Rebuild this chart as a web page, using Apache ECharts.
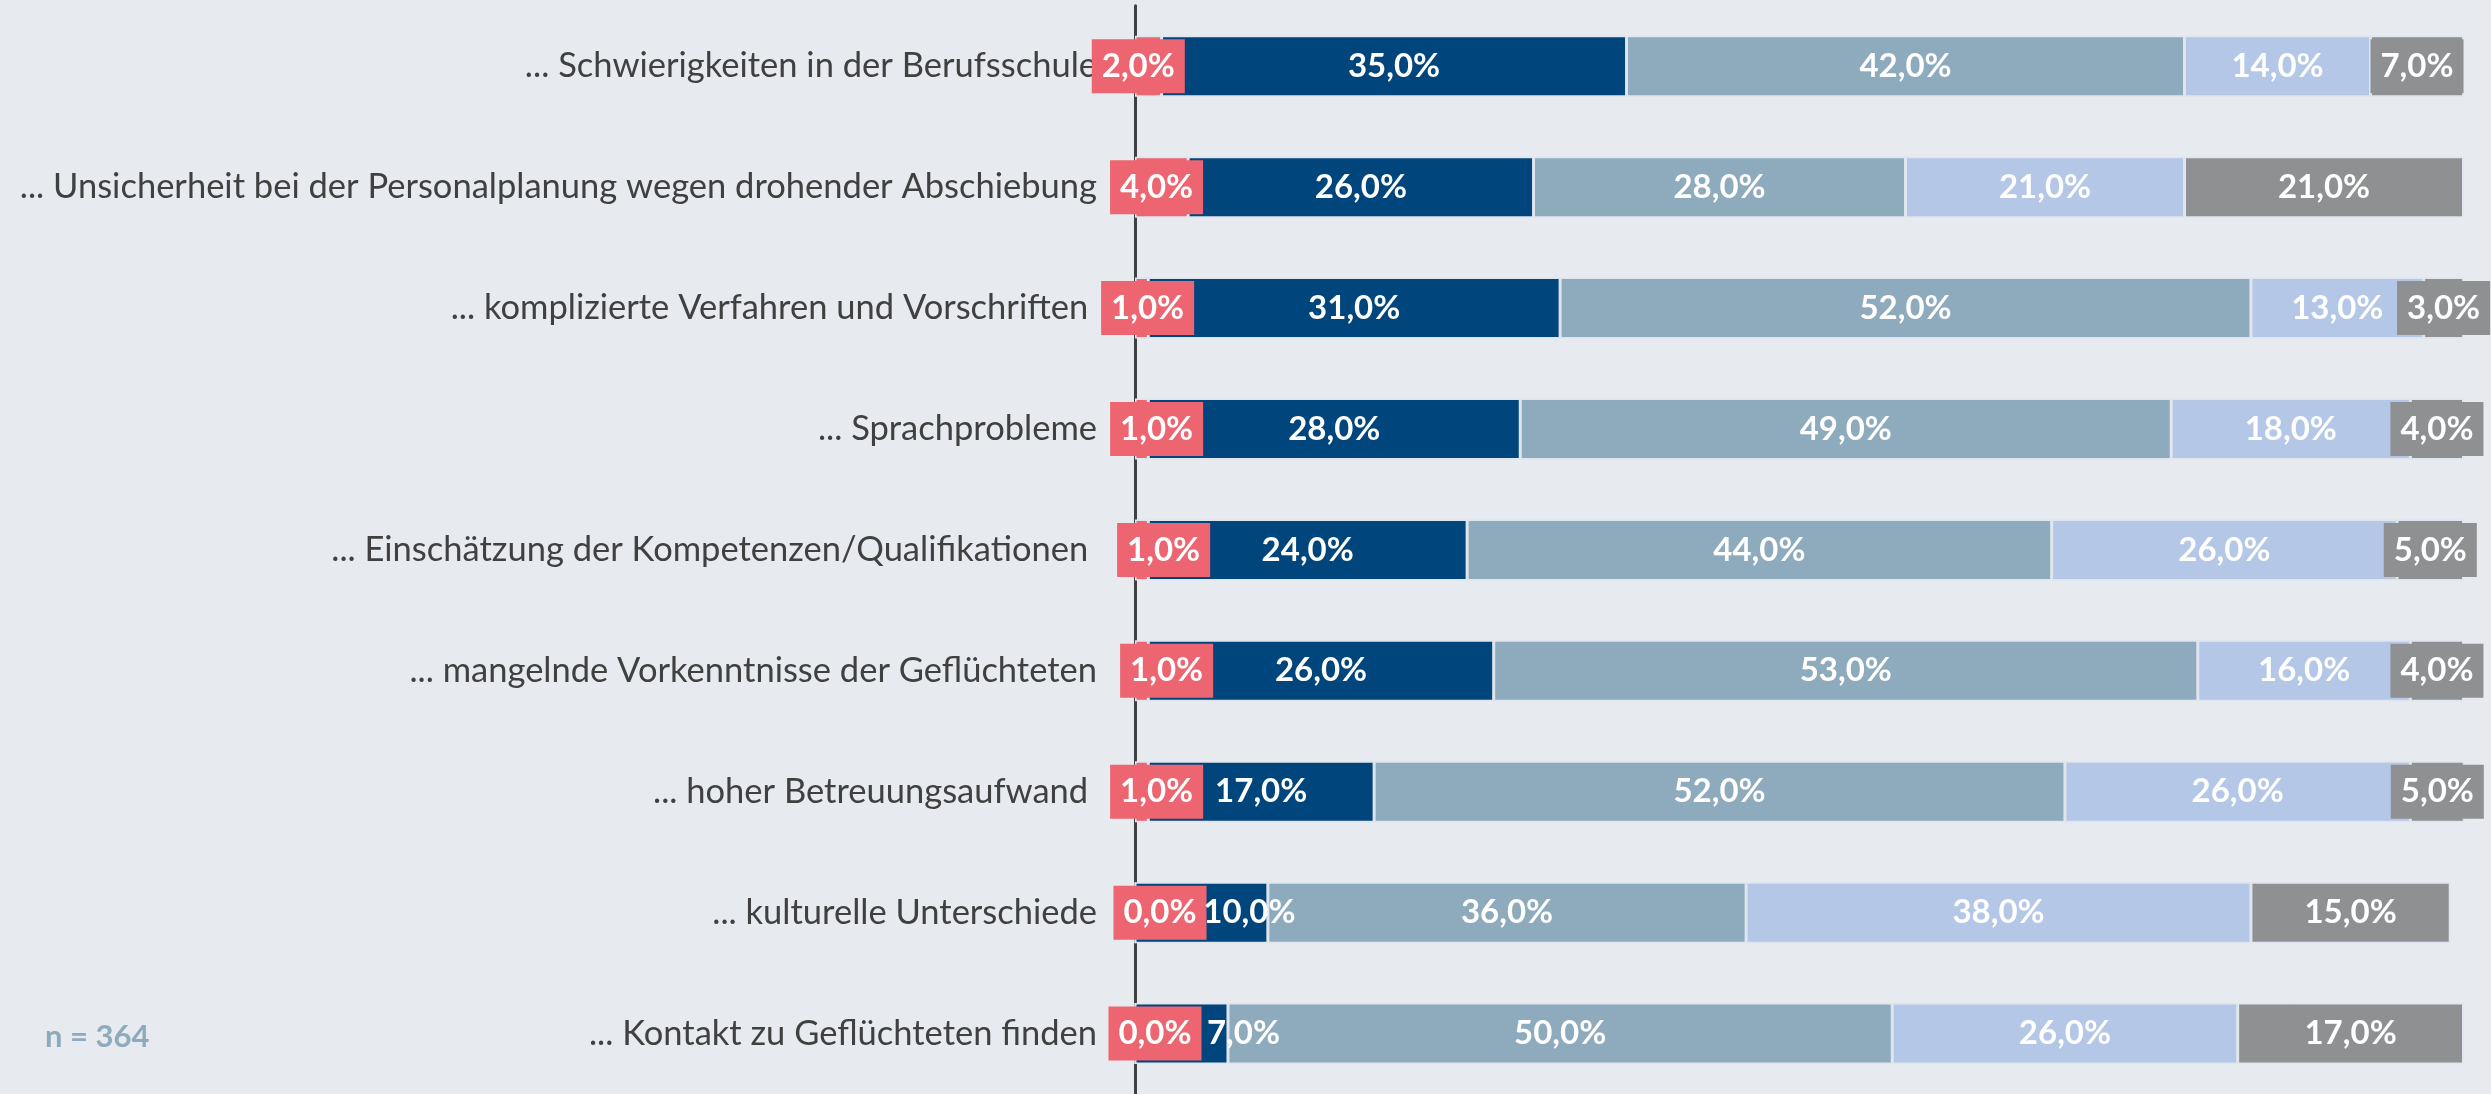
<!DOCTYPE html>
<html>
<head>
<meta charset="utf-8">
<title>Herausforderungen bei der Ausbildung Geflüchteter</title>
<script src="https://cdn.jsdelivr.net/npm/echarts@6/dist/echarts.min.js"></script>
<style>
  html, body { margin: 0; padding: 0; background: #e7eaef; }
  #chart { width: 2491px; height: 1094px; }
</style>
</head>
<body>
<div id="chart"></div>
<script>
// Kategorien von oben nach unten (Leerzeichen am Ende wie im Original)
const categories = [
  '... Schwierigkeiten in der Berufsschule',
  '... Unsicherheit bei der Personalplanung wegen drohender Abschiebung',
  '... komplizierte Verfahren und Vorschriften ',
  '... Sprachprobleme',
  '... Einschätzung der Kompetenzen/Qualifikationen ',
  '... mangelnde Vorkenntnisse der Geflüchteten',
  '... hoher Betreuungsaufwand ',
  '... kulturelle Unterschiede',
  '... Kontakt zu Geflüchteten finden'
]

// Anteile in Prozent, je Segment eine Reihe
const redValues = [2, 4, 1, 1, 1, 1, 1, 0, 0]
const darkBlueValues = [35, 26, 31, 28, 24, 26, 17, 10, 7]
const greyBlueValues = [42, 28, 52, 49, 44, 53, 52, 36, 50]
const lightBlueValues = [14, 21, 13, 18, 26, 16, 26, 38, 26]
const greyValues = [7, 21, 3, 4, 5, 4, 5, 15, 17]

const sampleNote = 'n = 364'

// Verschiebung einzelner Beschriftungen (px), wie im Original von Hand gesetzt
const redLabelShift = [-10, -5, 6, 15, 22, 25, 15, 25, 20]
const darkLabelShift = [0, 0, 0, 0, 0, 0, 0, 48, 62]

const FONT = 'Lato'
const pct = (v) => v.toFixed(1).replace('.', ',') + '%'

// Daten mit optionaler Label-Verschiebung
const withShift = (values, shift) =>
  values.map((v, i) => ({ value: v, label: { offset: [shift ? shift[i] : 0, 0] } }))

const makeSeries = (name, values, color, shift, boxed) => ({
  name,
  type: 'bar',
  stack: 'total',
  barWidth: 61,
  data: withShift(values, shift),
  itemStyle: {
    color,
    borderColor: '#dfe5ee',
    borderWidth: 1.5,
  },
  label: {
    show: true,
    position: 'inside',
    formatter: (p) => pct(p.value),
    color: '#ffffff',
    fontFamily: FONT,
    fontWeight: 'bold',
    fontSize: 33,
    lineHeight: 34,
    backgroundColor: boxed ? color : 'transparent',
    padding: boxed ? [10, 10] : 0,
  },
  emphasis: { disabled: true },
})

const chart = echarts.init(document.getElementById('chart'))

chart.setOption({
  backgroundColor: '#e7eaef',
  animation: false,
  grid: {
    left: 1135,
    right: 27.5,
    top: 5.8,
    bottom: -4.2,
  },
  xAxis: {
    type: 'value',
    min: 0,
    max: 100,
    show: false,
  },
  yAxis: {
    type: 'category',
    inverse: true,
    data: categories,
    axisLine: {
      show: true,
      lineStyle: { color: '#404040', width: 3 },
    },
    axisTick: { show: false },
    axisLabel: {
      margin: 38,
      color: '#404040',
      fontFamily: FONT,
      fontSize: 34.5,
    },
  },
  series: [
    makeSeries('rot', redValues, '#ec6570', redLabelShift, true),
    makeSeries('dunkelblau', darkBlueValues, '#00457b', darkLabelShift, false),
    makeSeries('graublau', greyBlueValues, '#8eabbe', null, false),
    makeSeries('hellblau', lightBlueValues, '#b4c7e7', null, false),
    makeSeries('grau', greyValues, '#8f9092', null, true),
  ],
  graphic: [
    {
      type: 'text',
      x: 45,
      y: 1037,
      style: {
        text: sampleNote,
        fill: '#8eabbe',
        font: 'bold 31px Lato',
        verticalAlign: 'middle',
      },
    },
  ],
})

window.addEventListener('resize', () => {
  chart.resize()
})
</script>
</body>
</html>
